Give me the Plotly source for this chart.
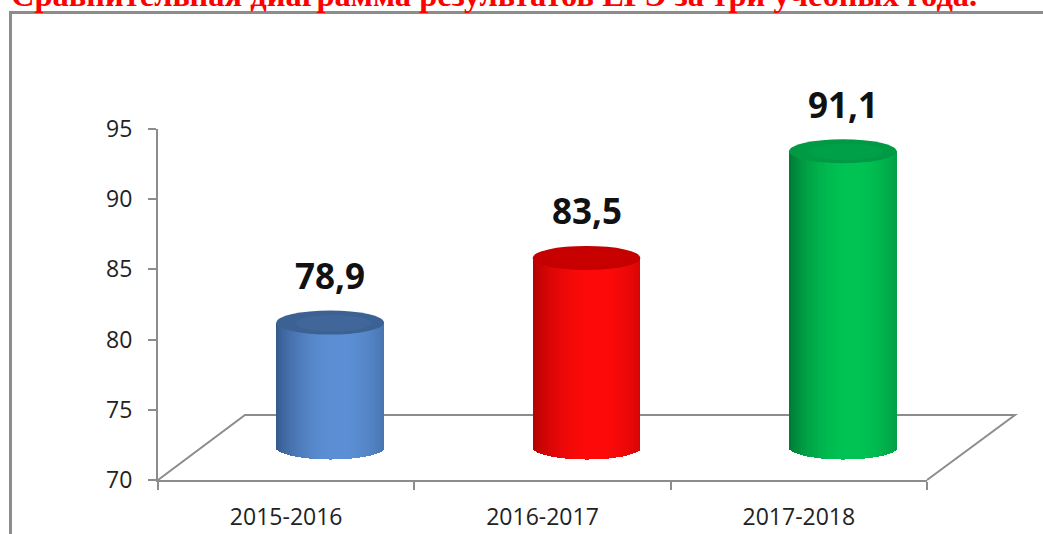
import numpy as np
import plotly.graph_objects as go

# ---- data ----
categories = ["2015-2016", "2016-2017", "2017-2018"]
values = [78.9, 83.5, 91.1]
y_ticks = [70, 75, 80, 85, 90, 95]
title_text = "Сравнительная диаграмма результатов ЕГЭ за три учебных года."

# ---- style ----
dark_cols = [(44, 78, 122), (160, 0, 0), (0, 105, 45)]
light_cols = [(92, 144, 214), (255, 10, 10), (0, 196, 84)]
cap_cols = ["#3c6293", "#c40000", "#009a44"]
cap_inner = ["#40669a", "#c80000", "#00a048"]

W_PX, H_PX = 1043, 534
L, R, T, B = 158, 116, 129, 54
plot_w = W_PX - L - R
plot_h = H_PX - T - B
px_per_unit = plot_h / 25.0
cat_px = plot_w / 3.0

shift = 44 / cat_px          # depth offset of cylinders (category units)
base_shift_px = 32.5         # mid-depth floor is 32.5 px above front edge
y2_lo = 70 - base_shift_px / px_per_unit
bar_w = 0.42
h = 12 / px_per_unit         # half height of ellipses in value units
N = 70

fig = go.Figure()

# invisible trace so the main (visible) axes are drawn
fig.add_trace(go.Scatter(x=categories, y=values, mode="markers",
                         marker=dict(opacity=0), hoverinfo="skip", showlegend=False))

def shade(t, d, l):
    g = np.cos(np.clip(np.abs(t - 0.58) / 0.62, 0, 1) * np.pi / 2) ** 0.7
    return "rgb(%d,%d,%d)" % tuple(int(d[k] + (l[k] - d[k]) * g) for k in range(3))

dw = bar_w / N
for i in range(N):
    t = (i + 0.5) / N
    u = 2 * t - 1
    base = 70 - h * np.sqrt(max(0.0, 1 - u * u))
    cols = [shade(t, dark_cols[k], light_cols[k]) for k in range(3)]
    fig.add_trace(go.Bar(
        x=categories,
        y=[v - base for v in values],
        base=[base] * 3,
        width=[dw * (1.0 if i == N - 1 else 1.5)] * 3,
        offset=[-bar_w / 2 + i * dw] * 3,
        marker=dict(color=cols, line=dict(width=0)),
        xaxis="x2", yaxis="y2",
        hoverinfo="skip", showlegend=False,
    ))

shapes = []
# floor (3D base plane)
back_y = 65 / plot_h
back_dx = 87 / plot_w
floor_col = "#8c8c8c"
shapes.append(dict(type="path", xref="paper", yref="paper", layer="below",
                   path=f"M 0 0 L {back_dx} {back_y} L {1 + (1015 - 927) / plot_w} {back_y} L 1 0",
                   line=dict(color=floor_col, width=2)))
# outer frame
shapes.append(dict(type="rect", xref="paper", yref="paper", layer="below",
                   x0=(10.5 - L) / plot_w, x1=1.3, y0=-0.4, y1=(H_PX - B - 12.5) / plot_h,
                   line=dict(color="#8c8c8c", width=3), fillcolor="rgba(0,0,0,0)"))
# cylinder caps
for k, v in enumerate(values):
    shapes.append(dict(type="circle", xref="x2", yref="y2", layer="above",
                       x0=k - bar_w / 2, x1=k + bar_w / 2, y0=v - h, y1=v + h,
                       fillcolor=cap_cols[k], line=dict(width=0)))
    shapes.append(dict(type="circle", xref="x2", yref="y2", layer="above",
                       x0=k - bar_w * 0.32, x1=k + bar_w * 0.38, y0=v - h * 0.75, y1=v + h * 0.65,
                       fillcolor=cap_inner[k], line=dict(width=0)))

annotations = []
for k, v in enumerate(values):
    annotations.append(dict(x=k, y=v, xref="x2", yref="y2",
                            text=f"{v:.1f}".replace(".", ","),
                            showarrow=False, yanchor="middle", yshift=47,
                            font=dict(family="Open Sans", size=35, color="#111111", weight="bold")))
annotations.append(dict(x=(494 - L) / plot_w, y=(H_PX - B - 15) / plot_h, xref="paper", yref="paper",
                        text=f"<b>{title_text}</b>", showarrow=False,
                        xanchor="center", yanchor="bottom",
                        font=dict(family="Liberation Serif", size=32.5, color="#ff0000")))

axis_col = "#8c8c8c"
fig.update_layout(
    width=W_PX, height=H_PX,
    margin=dict(l=L, r=R, t=T, b=B, autoexpand=False),
    paper_bgcolor="white", plot_bgcolor="rgba(0,0,0,0)",
    barmode="overlay", bargap=0,
    shapes=shapes, annotations=annotations,
    xaxis=dict(type="category", categoryorder="array", categoryarray=categories,
               range=[-0.5, 2.5], showline=True, linecolor=axis_col, linewidth=2,
               ticks="outside", tickson="boundaries", ticklen=8, tickcolor=axis_col, tickwidth=2,
               showgrid=False, zeroline=False, ticklabelstandoff=15, automargin=False,
               tickfont=dict(family="Open Sans", size=23, color="#222222")),
    yaxis=dict(range=[70, 95], tickvals=y_ticks, showline=True, linecolor=axis_col, linewidth=2,
               ticks="outside", ticklen=8, tickcolor=axis_col, tickwidth=2,
               showgrid=False, zeroline=False, ticklabelstandoff=11, automargin=False,
               tickfont=dict(family="Open Sans", size=23, color="#222222")),
    xaxis2=dict(type="category", categoryorder="array", categoryarray=categories,
                overlaying="x", range=[-0.5 - shift, 2.5 - shift], visible=False),
    yaxis2=dict(overlaying="y", range=[y2_lo, y2_lo + 25], visible=False),
)

fig.write_html("out.html", config={"displayModeBar": False},
               post_script="document.body.style.margin='0';document.body.style.overflow='hidden';")
